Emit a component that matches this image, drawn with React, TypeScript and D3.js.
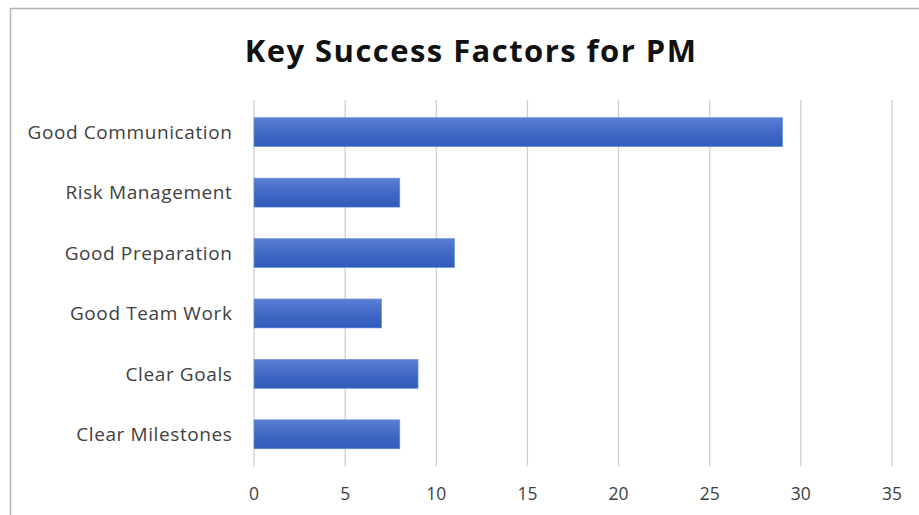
import React from "react";
import * as d3 from "d3";

const categories = [
  "Good Communication",
  "Risk Management",
  "Good Preparation",
  "Good Team Work",
  "Clear Goals",
  "Clear Milestones",
];
const values = [29, 8, 11, 7, 9, 8];
const xTicks = [0, 5, 10, 15, 20, 25, 30, 35];
const title = "Key Success Factors for PM";

export default function App() {
  const W = 919;
  const H = 515;
  const x = d3.scaleLinear().domain([0, 35]).range([254, 892]);
  const y = d3.scaleBand<string>().domain(categories).range([102, 464.5]).paddingInner(0.52).paddingOuter(0.26);
  const font = "'Open Sans', 'Noto Sans', sans-serif";
  return (
    <svg width={W} height={H} style={{ position: "absolute", left: 0, top: 0, background: "#fff" }}>
      <defs>
        <linearGradient id="barGrad" x1="0" y1="0" x2="0" y2="1">
          <stop offset="0" stopColor="#5a80d2" />
          <stop offset="0.5" stopColor="#4169c6" />
          <stop offset="1" stopColor="#2f5bb9" />
        </linearGradient>
      </defs>
      <rect x={0} y={0} width={W} height={H} fill="#fff" />
      <rect x={10.5} y={8.5} width={W + 20} height={H + 20} fill="none" stroke="#b4b4b4" strokeWidth={1.5} />
      <text x={471} y={62} textAnchor="middle" fontFamily={font} fontWeight="bold" fontSize={31} letterSpacing={1.45} fill="#111">
        {title}
      </text>
      {xTicks.map((t) => (
        <g key={t}>
          <line x1={x(t)} x2={x(t)} y1={100} y2={466} stroke="#cfcfcf" strokeWidth={1.3} />
          <text x={x(t)} y={500} textAnchor="middle" fontFamily={font} fontSize={17.5} fill="#404040">
            {t}
          </text>
        </g>
      ))}
      {categories.map((c, i) => (
        <g key={c}>
          <rect
            x={x(0)}
            y={y(c)!}
            width={x(values[i]) - x(0)}
            height={y.bandwidth()}
            fill="url(#barGrad)"
            stroke="#6f92dc"
            strokeWidth={0.6}
          />
          <text
            x={232.5}
            y={y(c)! + y.bandwidth() / 2}
            dy="0.36em"
            textAnchor="end"
            fontFamily={font}
            fontSize={19}
            letterSpacing={0.6}
            fill="#404040"
          >
            {c}
          </text>
        </g>
      ))}
    </svg>
  );
}
